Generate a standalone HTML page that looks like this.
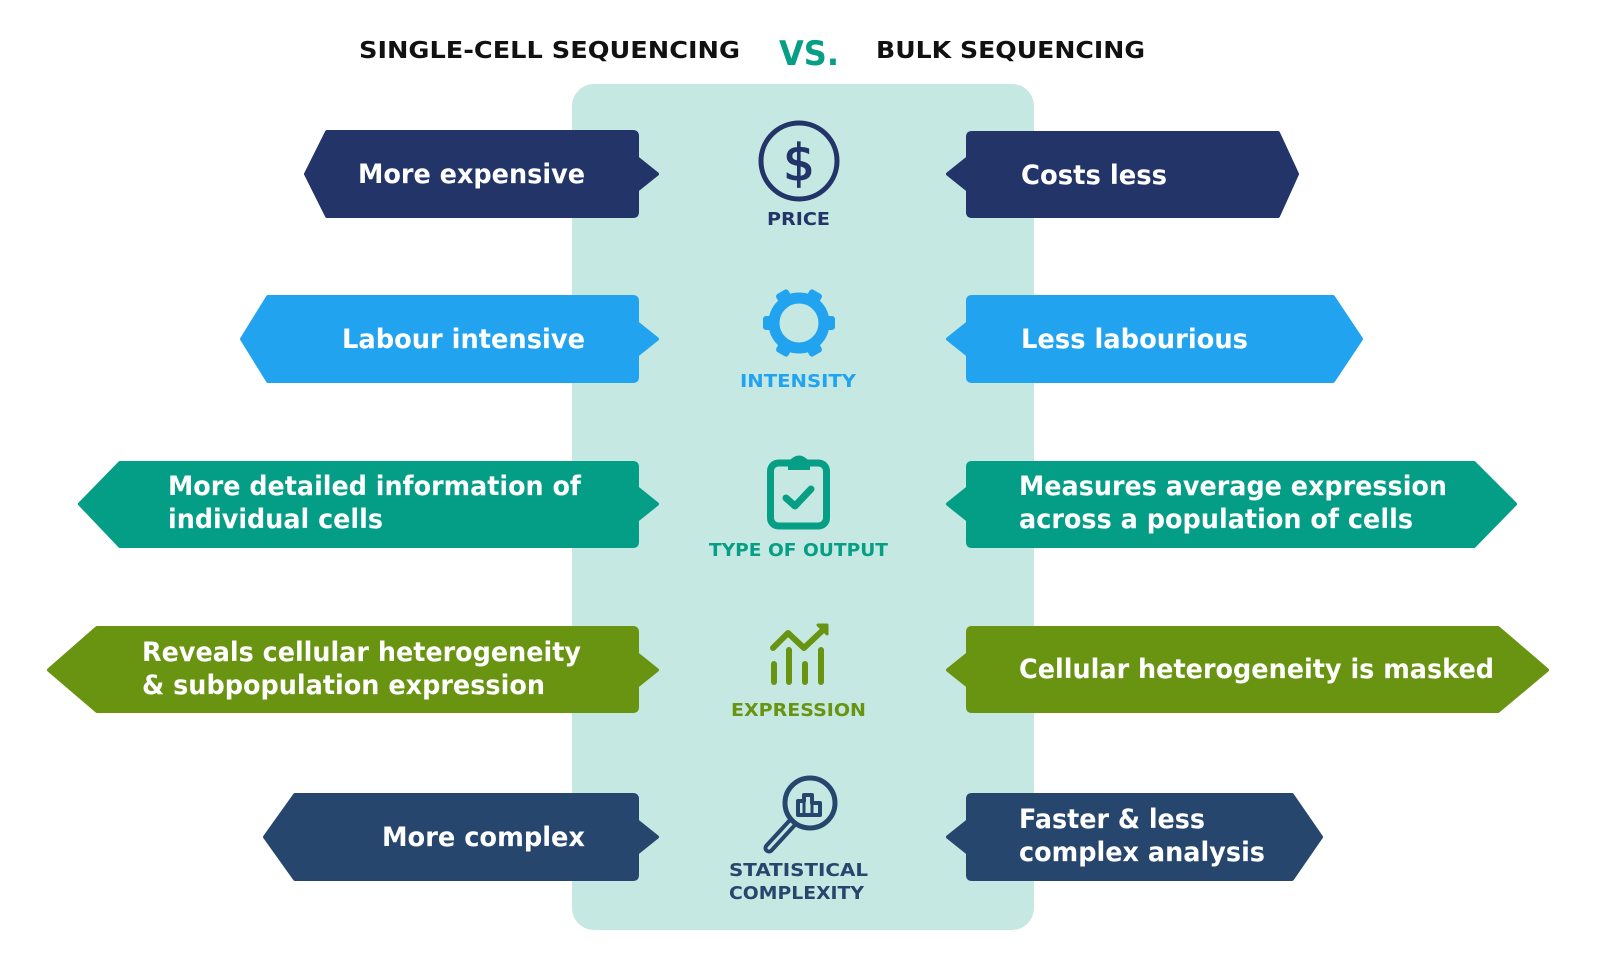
<!DOCTYPE html>
<html><head><meta charset="utf-8"><style>
html,body{margin:0;padding:0;background:#fff;}
svg{display:block;}
text{font-family:"DejaVu Sans","Liberation Sans",sans-serif;font-weight:bold;}
.w{fill:#fff;font-size:27px;}
.l{font-size:18px;}
.bx path{stroke-linejoin:round;stroke-width:4;}
</style></head><body>
<svg width="1599" height="976" viewBox="0 0 1599 976" xmlns="http://www.w3.org/2000/svg">
<rect width="1599" height="976" fill="#fff"/>
<text x="359" y="58" font-size="23" fill="#111" textLength="381" lengthAdjust="spacingAndGlyphs">SINGLE-CELL SEQUENCING</text>
<text x="779" y="65" font-size="34" fill="#069e85" textLength="60" lengthAdjust="spacingAndGlyphs">VS.</text>
<text x="876" y="58" font-size="23" fill="#111" textLength="269" lengthAdjust="spacingAndGlyphs">BULK SEQUENCING</text>
<rect x="572" y="84" width="462" height="846" rx="22" fill="#c5e9e2"/>

<g class="bx">
<path d="M306,174 L327,132 L633,132 Q637,132 637,136 L637,158 L657,174 L637,190 L637,212 Q637,216 633,216 L327,216 Z" fill="#233468" stroke="#233468"/>
<path d="M242,339 L268,297 L633,297 Q637,297 637,301 L637,323 L657,339 L637,355 L637,377 Q637,381 633,381 L268,381 Z" fill="#22a3f0" stroke="#22a3f0"/>
<path d="M80,504 L120,463 L633,463 Q637,463 637,467 L637,488 L657,504 L637,520 L637,542 Q637,546 633,546 L120,546 Z" fill="#039e85" stroke="#039e85"/>
<path d="M49,670 L97,628 L633,628 Q637,628 637,632 L637,654 L657,670 L637,686 L637,707 Q637,711 633,711 L97,711 Z" fill="#689412" stroke="#689412"/>
<path d="M265,837 L295,795 L633,795 Q637,795 637,799 L637,821 L657,837 L637,853 L637,875 Q637,879 633,879 L295,879 Z" fill="#27466e" stroke="#27466e"/>

<path d="M1297,174 L1278,133 L972,133 Q968,133 968,137 L968,158 L948,174 L968,190 L968,212 Q968,216 972,216 L1278,216 Z" fill="#233468" stroke="#233468"/>
<path d="M1361,339 L1333,297 L972,297 Q968,297 968,301 L968,323 L948,339 L968,355 L968,377 Q968,381 972,381 L1333,381 Z" fill="#22a3f0" stroke="#22a3f0"/>
<path d="M1515,504 L1474,463 L972,463 Q968,463 968,467 L968,488 L948,504 L968,520 L968,542 Q968,546 972,546 L1474,546 Z" fill="#039e85" stroke="#039e85"/>
<path d="M1547,670 L1498,628 L972,628 Q968,628 968,632 L968,654 L948,670 L968,686 L968,707 Q968,711 972,711 L1498,711 Z" fill="#689412" stroke="#689412"/>
<path d="M1321,837 L1292,795 L972,795 Q968,795 968,799 L968,821 L948,837 L968,853 L968,875 Q968,879 972,879 L1292,879 Z" fill="#27466e" stroke="#27466e"/>
</g>

<text class="w" x="358" y="183" textLength="227" lengthAdjust="spacingAndGlyphs">More expensive</text>
<text class="w" x="342" y="348" textLength="243" lengthAdjust="spacingAndGlyphs">Labour intensive</text>
<text class="w" x="168" y="495" textLength="413" lengthAdjust="spacingAndGlyphs">More detailed information of</text>
<text class="w" x="168" y="528" textLength="215" lengthAdjust="spacingAndGlyphs">individual cells</text>
<text class="w" x="142" y="661" textLength="439" lengthAdjust="spacingAndGlyphs">Reveals cellular heterogeneity</text>
<text class="w" x="142" y="694" textLength="403" lengthAdjust="spacingAndGlyphs">&amp; subpopulation expression</text>
<text class="w" x="382" y="846" textLength="203" lengthAdjust="spacingAndGlyphs">More complex</text>

<text class="w" x="1021" y="184" textLength="146" lengthAdjust="spacingAndGlyphs">Costs less</text>
<text class="w" x="1021" y="348" textLength="227" lengthAdjust="spacingAndGlyphs">Less labourious</text>
<text class="w" x="1019" y="495" textLength="428" lengthAdjust="spacingAndGlyphs">Measures average expression</text>
<text class="w" x="1019" y="528" textLength="394" lengthAdjust="spacingAndGlyphs">across a population of cells</text>
<text class="w" x="1019" y="678" textLength="475" lengthAdjust="spacingAndGlyphs">Cellular heterogeneity is masked</text>
<text class="w" x="1019" y="828" textLength="186" lengthAdjust="spacingAndGlyphs">Faster &amp; less</text>
<text class="w" x="1019" y="861" textLength="246" lengthAdjust="spacingAndGlyphs">complex analysis</text>

<circle cx="799" cy="161" r="38" fill="none" stroke="#233468" stroke-width="5"/>
<text x="799" y="180" text-anchor="middle" font-size="50" fill="#233468" stroke="#233468" stroke-width="1.2" style="font-weight:normal">$</text>
<text class="l" x="767" y="225" fill="#233468" textLength="63" lengthAdjust="spacingAndGlyphs">PRICE</text>

<g fill="#22a3f0" transform="translate(799,323)">
<circle r="25" fill="none" stroke="#22a3f0" stroke-width="11"/>
<rect x="-7" y="-36" width="14" height="12" rx="3" transform="rotate(30)"/>
<rect x="-7" y="-36" width="14" height="12" rx="3" transform="rotate(90)"/>
<rect x="-7" y="-36" width="14" height="12" rx="3" transform="rotate(150)"/>
<rect x="-7" y="-36" width="14" height="12" rx="3" transform="rotate(210)"/>
<rect x="-7" y="-36" width="14" height="12" rx="3" transform="rotate(270)"/>
<rect x="-7" y="-36" width="14" height="12" rx="3" transform="rotate(330)"/>
</g>
<text class="l" x="740" y="387" fill="#22a3f0" textLength="116" lengthAdjust="spacingAndGlyphs">INTENSITY</text>

<rect x="770.5" y="463" width="56" height="63" rx="8" fill="none" stroke="#069e85" stroke-width="7"/>
<path d="M788,470 L788,462 Q799,449 810,462 L810,470 Z" fill="#069e85"/>
<path d="M786,498 L795,506 L811,489" fill="none" stroke="#069e85" stroke-width="7" stroke-linecap="round" stroke-linejoin="round"/>
<text class="l" x="709" y="556" fill="#069e85" textLength="179" lengthAdjust="spacingAndGlyphs">TYPE OF OUTPUT</text>

<g stroke="#689412" stroke-width="6" stroke-linecap="round" fill="none">
<line x1="774" y1="664" x2="774" y2="682"/>
<line x1="789" y1="650" x2="789" y2="682"/>
<line x1="805" y1="664" x2="805" y2="682"/>
<line x1="821" y1="650" x2="821" y2="682"/>
<path d="M773,648 L788,633 L804,648 L823,630" stroke-linejoin="round"/>
</g>
<path d="M818,625 L827,625 L827,634 Z" fill="#689412" stroke="#689412" stroke-width="3" stroke-linejoin="round"/>
<text class="l" x="731" y="716" fill="#689412" textLength="135" lengthAdjust="spacingAndGlyphs">EXPRESSION</text>

<line x1="792" y1="823" x2="769" y2="848" stroke="#27466e" stroke-width="11" stroke-linecap="round"/>
<line x1="792" y1="823" x2="769" y2="848" stroke="#c5e9e2" stroke-width="3" stroke-linecap="round"/>
<circle cx="810" cy="803" r="25" fill="#c5e9e2" stroke="#27466e" stroke-width="5"/>
<path d="M798,815 L798,801 L804,801 L804,795 L812,795 L812,803 L820,803 L820,815 Z" fill="none" stroke="#27466e" stroke-width="4" stroke-linejoin="round"/>
<line x1="804" y1="801" x2="804" y2="815" stroke="#27466e" stroke-width="3"/>
<line x1="812" y1="803" x2="812" y2="815" stroke="#27466e" stroke-width="3"/>
<text class="l" x="729" y="876" fill="#27466e" textLength="139" lengthAdjust="spacingAndGlyphs">STATISTICAL</text>
<text class="l" x="729" y="899" fill="#27466e" textLength="135" lengthAdjust="spacingAndGlyphs">COMPLEXITY</text>
</svg>
</body></html>
